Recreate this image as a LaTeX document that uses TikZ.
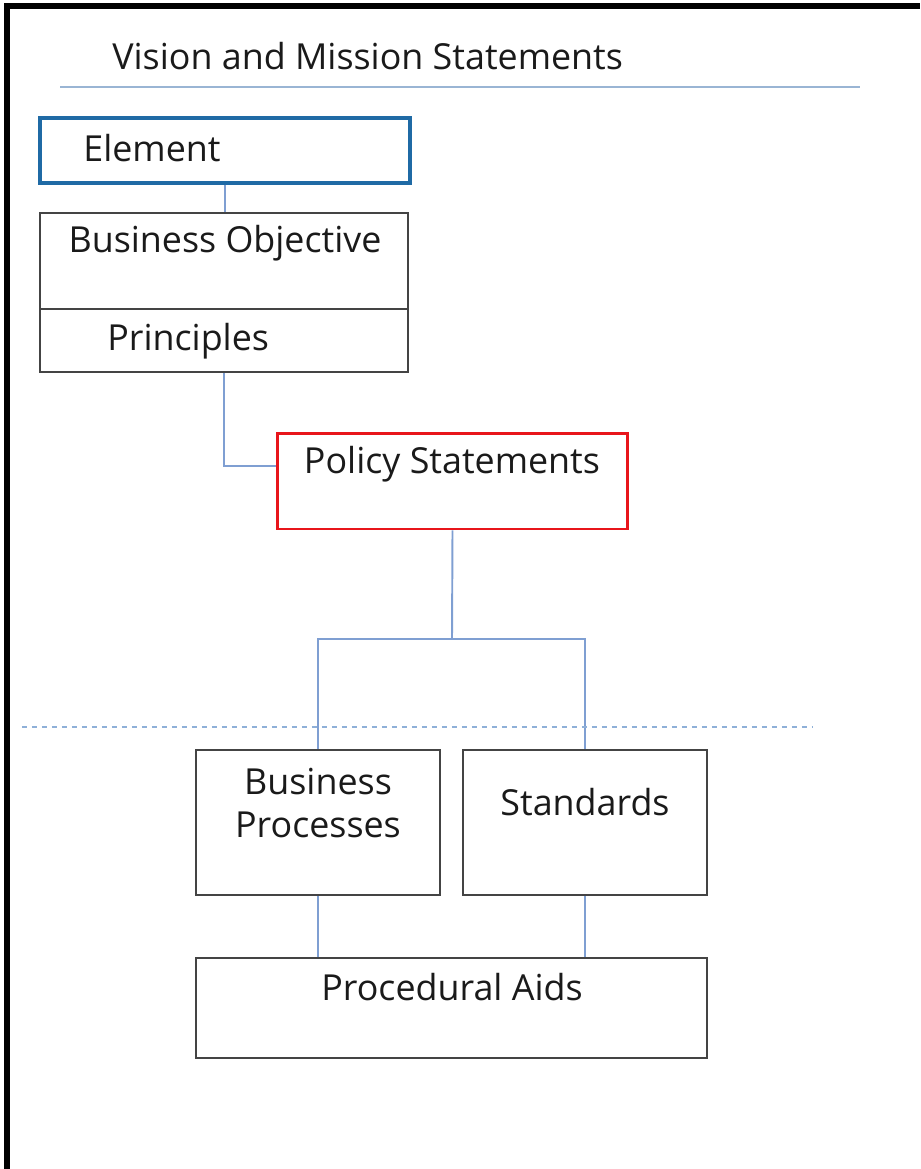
\documentclass[tikz,border=0pt]{standalone}
\usepackage{fontspec}
\setmainfont{Open Sans}
\usetikzlibrary{positioning}
\definecolor{linkblue}{HTML}{7F9FD2}
\definecolor{ruleblue}{HTML}{9AB5D4}
\definecolor{dashblue}{HTML}{8FB0D8}
\definecolor{elemblue}{HTML}{1F6AA5}
\definecolor{polred}{HTML}{E8151B}
\definecolor{boxgray}{HTML}{444444}
\definecolor{inkgray}{HTML}{1A1A1A}
\begin{document}
\begin{tikzpicture}[x=0.02cm,y=-0.02cm,
    box/.style={draw=boxgray,line width=1.4pt,inner sep=0pt},
    link/.style={draw=linkblue,line width=1.1pt},
    txt/.style={font=\fontsize{20.4}{24}\selectfont,text=inkgray,inner sep=0pt}]
    \useasboundingbox (0,0) rectangle (920,1169);
    \draw[line width=3pt] (7,1169) -- (7,6) -- (920,6);
    % title and rule
    \node[txt,anchor=base west] (title) at (112,70) {Vision and Mission Statements};
    \draw[draw=ruleblue,line width=1.1pt] (60,87) -- (860,87);
    % boxes
    \node[box,draw=elemblue,line width=2pt,minimum width=7.4cm,minimum height=1.3cm] (elem) at (225,150.5) {};
    \node[box,minimum width=7.36cm,minimum height=1.92cm] (obj) at (224,261) {};
    \node[box,minimum width=7.36cm,minimum height=1.26cm] (prin) at (224,340.5) {};
    \node[box,draw=polred,line width=1.7pt,minimum width=7.02cm,minimum height=1.92cm] (pol) at (452.5,481) {};
    \node[box,minimum width=4.88cm,minimum height=2.9cm] (bp) at (318,822.5) {};
    \node[box,minimum width=4.88cm,minimum height=2.9cm] (std) at (585,822.5) {};
    \node[box,minimum width=10.22cm,minimum height=2cm] (aids) at (451.5,1008) {};
    % labels
    \node[txt,anchor=base west] (elemtxt) at (83,162) {Element};
    \node[txt,anchor=base] (objtxt) at (225,253) {Business Objective};
    \node[txt,anchor=base west] (printxt) at (107,350) {Principles};
    \node[txt,anchor=base] (poltxt) at (452,473) {Policy Statements};
    \node[txt,anchor=base] (bptxt) at (318,794) {Business};
    \node[txt,anchor=base] (bptxtb) at (318,837) {Processes};
    \node[txt,anchor=base] (stdtxt) at (585,815) {Standards};
    \node[txt,anchor=base] (aidstxt) at (452,1000) {Procedural Aids};
    % connectors
    \coordinate (fork) at (452,639);
    \draw[link] (elem.south) -- (elem.south |- obj.north);
    \draw[link] (prin.south) |- ([yshift=0.3cm]pol.west);
    \draw[link] (pol.south) -- (fork);
    \draw[link] (bp.north) |- (fork) -| (std.north);
    \draw[link] (bp.south) -- (bp.south |- aids.north);
    \draw[link] (std.south) -- (std.south |- aids.north);
    \draw[draw=dashblue,line width=1.1pt,dash pattern=on 0.1cm off 0.1cm] (22,727) -- (812,727);
\end{tikzpicture}
\end{document}
